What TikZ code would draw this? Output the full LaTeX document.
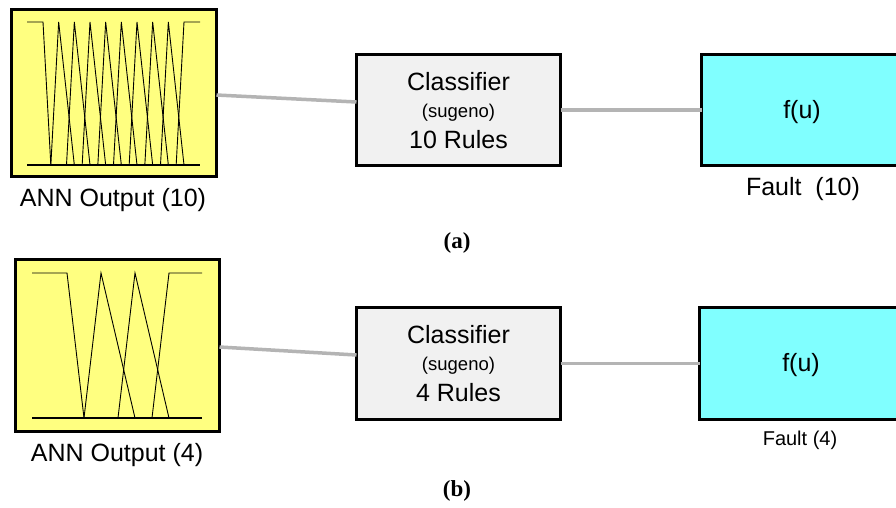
\documentclass[tikz,border=0pt]{standalone}
\usepackage{fontspec}
\newfontfamily\arialf{Liberation Sans}
\newfontfamily\capf{Liberation Serif}
\definecolor{mfyellow}{RGB}{255,255,128}
\definecolor{rulegray}{RGB}{241,241,241}
\definecolor{outcyan}{RGB}{128,255,255}
\definecolor{conngray}{RGB}{180,180,180}
\begin{document}
\begin{tikzpicture}[x=1pt,y=-1pt,
  every node/.style={inner sep=0pt,outer sep=0pt},
  mfbox/.style={draw=black,line width=3pt,fill=mfyellow},
  rulebox/.style={draw=black,line width=3pt,fill=rulegray},
  outbox/.style={draw=black,line width=3pt,fill=outcyan},
  conn/.style={draw=conngray,line width=3.5pt},
  mfline/.style={draw=black,line width=0.9pt,line join=miter},
  mfbase/.style={draw=black,line width=2pt},
  bigtxt/.style={font=\arialf\fontsize{25}{30}\selectfont,anchor=base},
  smalltxt/.style={font=\arialf\fontsize{18.5}{22}\selectfont,anchor=base},
  midtxt/.style={font=\arialf\fontsize{20}{24}\selectfont,anchor=base},
  captxt/.style={font=\capf\bfseries\fontsize{23}{27}\selectfont,anchor=base}]
\clip (0,0) rectangle (896,507);
\fill[white] (0,0) rectangle (896,507);

% ---------- (a) ----------
\node[mfbox,minimum width=205,minimum height=167] (ann1) at (114,93) {};
\node[rulebox,minimum width=204,minimum height=111] (cls1) at (458.5,110) {};
\node[outbox,minimum width=202,minimum height=111] (fu1) at (802.5,110) {};
\draw[conn] ([yshift=-2pt]ann1.east) -- ([yshift=8pt]cls1.west);
\draw[conn] (cls1.east) -- (fu1.west);

% membership functions (10)
\def\d{15.667}
\draw[mfline] (27,22) -- (43,22) -- ({43+\d/2},165);
\foreach \i in {1,...,8}{
  \draw[mfline] ({43+\i*\d-\d/2},165) -- ({43+\i*\d},22) -- ({43+\i*\d+\d},165);
}
\draw[mfline] ({184-\d/2},165) -- (184,22) -- (200,22);
\draw[mfbase] (27,165) -- (200,165);

\node[bigtxt] (annlab1) at (113,206) {ANN Output (10)};
\node[bigtxt] (clsA1) at (458.5,90) {Classifier};
\node[smalltxt] (clsB1) at (458.5,117) {(sugeno)};
\node[bigtxt] (clsC1) at (458.5,148) {10 Rules};
\node[bigtxt] (fut1) at (802,118) {f(u)};
\node[bigtxt] (fault1) at (803,195) {Fault\ \ (10)};
\node[captxt] (capa) at (457,248) {(a)};

% ---------- (b) ----------
\node[mfbox,minimum width=204,minimum height=172] (ann2) at (117.5,345.5) {};
\node[rulebox,minimum width=204,minimum height=112] (cls2) at (458.5,363.5) {};
\node[outbox,minimum width=204,minimum height=112] (fu2) at (801.5,363.5) {};
\draw[conn] ([yshift=-1.5pt]ann2.east) -- ([yshift=8.5pt]cls2.west);
\draw[conn] (cls2.east) -- (fu2.west);

% membership functions (4)
\draw[mfline] (32,273) -- (67,273) -- (84,418);
\draw[mfline] (84,418) -- (101,273) -- (135,418);
\draw[mfline] (118,418) -- (135,273) -- (169,418);
\draw[mfline] (152,418) -- (169,273) -- (202,273);
\draw[mfbase] (32,418) -- (202,418);

\node[bigtxt] (annlab2) at (117,461) {ANN Output (4)};
\node[bigtxt] (clsA2) at (458.5,343.5) {Classifier};
\node[smalltxt] (clsB2) at (458.5,370.5) {(sugeno)};
\node[bigtxt] (clsC2) at (458.5,401.5) {4 Rules};
\node[bigtxt] (fut2) at (801,371) {f(u)};
\node[midtxt] (fault2) at (800,445) {Fault (4)};
\node[captxt] (capb) at (457,496) {(b)};
\end{tikzpicture}
\end{document}
